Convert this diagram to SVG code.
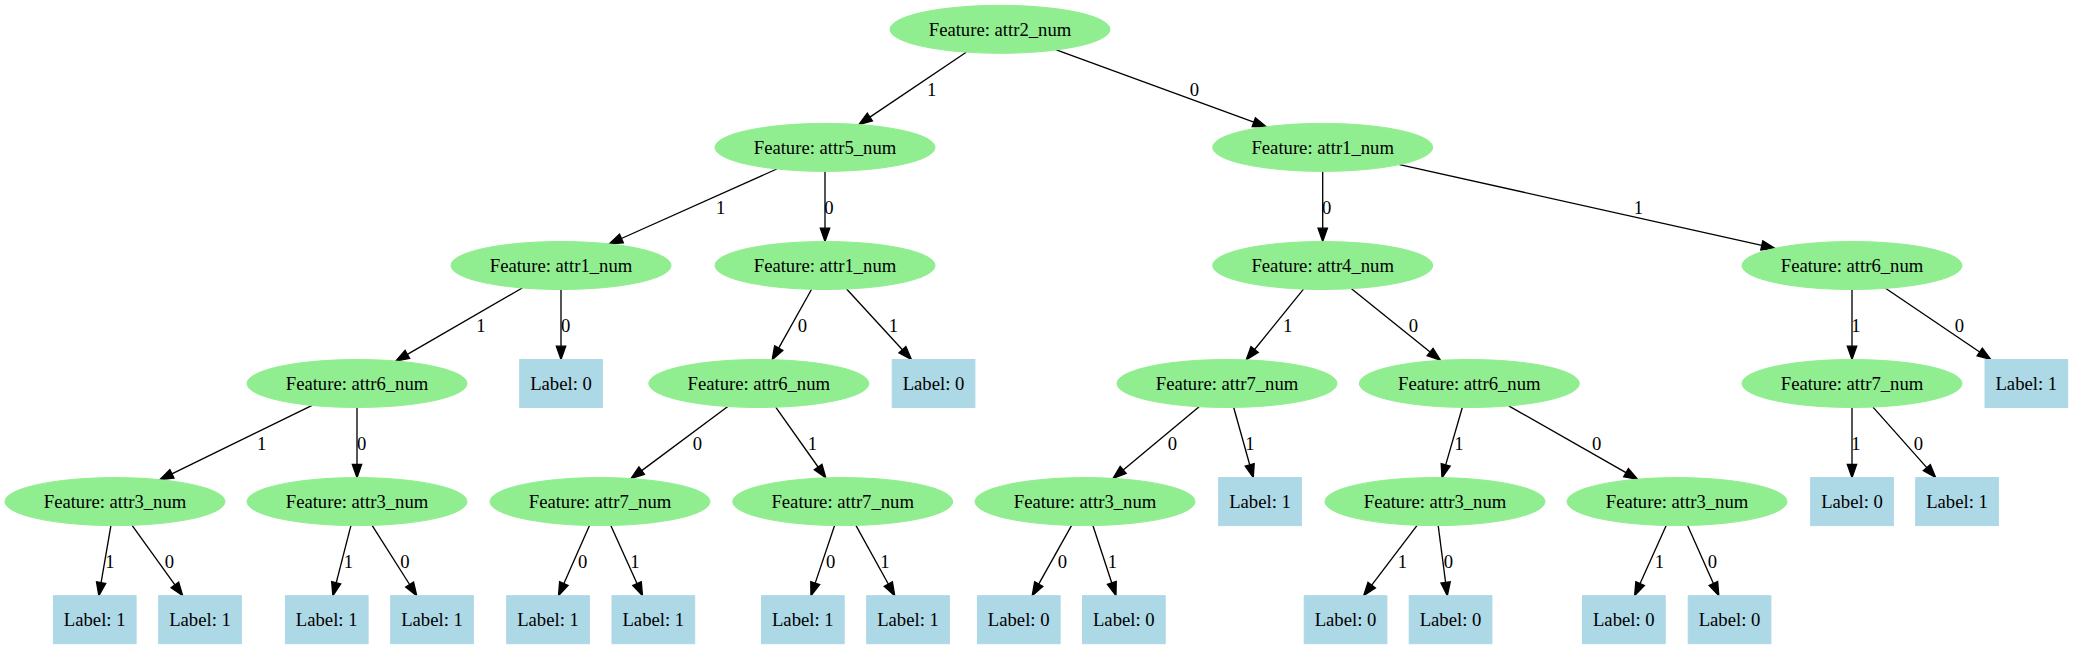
<svg xmlns="http://www.w3.org/2000/svg" width="2073" height="649" viewBox="0 0 2073 649">
<defs>
<style>
.f ellipse{fill:#90ee90;stroke:#90ee90;}
.l rect{fill:#add8e6;stroke:#add8e6;}
text{font-family:"Liberation Serif","Times New Roman",serif;font-size:18.67px;fill:#000;text-anchor:middle;}
#edges line{stroke:#000;stroke-width:1.33;marker-end:url(#arr);}
</style>
<marker id="arr" markerUnits="userSpaceOnUse" markerWidth="16" markerHeight="12" refX="0" refY="5" orient="auto" overflow="visible">
<path d="M0,0.33 L13.33,5 L0,9.67 Z" fill="#000" stroke="#000" stroke-width="1.33"/>
</marker>
</defs>
<rect width="2073" height="649" fill="#fff"/>
<g id="edges">
<line x1="966.2" y1="52.2" x2="869.9" y2="117.1"/>
<line x1="1056.3" y1="49.9" x2="1253.8" y2="122.2"/>
<line x1="776.8" y1="169" x2="621.4" y2="238.5"/>
<line x1="825" y1="171.4" x2="825" y2="228.2"/>
<line x1="1322.7" y1="171.4" x2="1322.7" y2="228.2"/>
<line x1="1399.6" y1="164.6" x2="1761.8" y2="245.4"/>
<line x1="522.2" y1="288" x2="407.4" y2="354.4"/>
<line x1="561" y1="289.5" x2="561" y2="346.2"/>
<line x1="811.6" y1="289.3" x2="778.7" y2="348.1"/>
<line x1="846.6" y1="289" x2="902.4" y2="349.7"/>
<line x1="1303.5" y1="289.1" x2="1254.6" y2="349.5"/>
<line x1="1351.5" y1="288.7" x2="1430.1" y2="352"/>
<line x1="1852" y1="289.5" x2="1852" y2="346.2"/>
<line x1="1885.5" y1="288.3" x2="1979.7" y2="352"/>
<line x1="312.1" y1="405.4" x2="171.9" y2="473.8"/>
<line x1="357" y1="407.5" x2="357" y2="464.3"/>
<line x1="727.8" y1="406.5" x2="641.7" y2="470.6"/>
<line x1="775.7" y1="407.2" x2="818.1" y2="467"/>
<line x1="1199.1" y1="406.7" x2="1123.2" y2="469.9"/>
<line x1="1233.7" y1="407.5" x2="1249.7" y2="464.8"/>
<line x1="1462.3" y1="407.5" x2="1445.7" y2="464.9"/>
<line x1="1508.7" y1="405.9" x2="1626" y2="472.6"/>
<line x1="1852" y1="407.5" x2="1852" y2="464.3"/>
<line x1="1873" y1="407.1" x2="1926.8" y2="467.6"/>
<line x1="110.9" y1="525.6" x2="101.1" y2="582.6"/>
<line x1="132.1" y1="525.3" x2="174.9" y2="584.9"/>
<line x1="350.9" y1="525.6" x2="336.2" y2="582.8"/>
<line x1="372.1" y1="525.4" x2="409.6" y2="584.5"/>
<line x1="589.5" y1="525.5" x2="563.9" y2="583.5"/>
<line x1="610.8" y1="525.5" x2="637" y2="583.6"/>
<line x1="834.6" y1="525.5" x2="815.2" y2="583.1"/>
<line x1="855.9" y1="525.4" x2="888.3" y2="584"/>
<line x1="1071.6" y1="525.4" x2="1038.7" y2="584.1"/>
<line x1="1092.9" y1="525.5" x2="1111.8" y2="583"/>
<line x1="1417.1" y1="525.3" x2="1371.7" y2="585.1"/>
<line x1="1438.2" y1="525.6" x2="1445.6" y2="582.5"/>
<line x1="1666.2" y1="525.5" x2="1640.1" y2="583.6"/>
<line x1="1687.6" y1="525.5" x2="1713.4" y2="583.5"/>
<text x="931.7" y="95.5">1</text>
<text x="1194.3" y="95.5">0</text>
<text x="720.7" y="213.5">1</text>
<text x="829" y="213.5">0</text>
<text x="1326.7" y="213.5">0</text>
<text x="1638.3" y="213.5">1</text>
<text x="481" y="331.5">1</text>
<text x="565.7" y="331.5">0</text>
<text x="802.3" y="331.5">0</text>
<text x="893.3" y="331.5">1</text>
<text x="1287.7" y="331.5">1</text>
<text x="1413.3" y="331.5">0</text>
<text x="1856" y="331.5">1</text>
<text x="1959.3" y="331.5">0</text>
<text x="261.7" y="449.8">1</text>
<text x="361.7" y="449.8">0</text>
<text x="697.3" y="449.8">0</text>
<text x="812.3" y="449.8">1</text>
<text x="1172.3" y="449.8">0</text>
<text x="1250" y="449.8">1</text>
<text x="1459" y="449.8">1</text>
<text x="1596.7" y="449.8">0</text>
<text x="1856" y="449.8">1</text>
<text x="1918.3" y="449.8">0</text>
<text x="110" y="568.2">1</text>
<text x="169.3" y="568.2">0</text>
<text x="348.3" y="568.2">1</text>
<text x="405" y="568.2">0</text>
<text x="582.7" y="568.2">0</text>
<text x="635" y="568.2">1</text>
<text x="830.7" y="568.2">0</text>
<text x="885" y="568.2">1</text>
<text x="1062.3" y="568.2">0</text>
<text x="1112.3" y="568.2">1</text>
<text x="1402.3" y="568.2">1</text>
<text x="1448.3" y="568.2">0</text>
<text x="1659.3" y="568.2">1</text>
<text x="1712.3" y="568.2">0</text>
</g>
<g id="n0" class="f"><ellipse cx="1000" cy="29.33" rx="110" ry="24"/><text x="1000" y="35.8">Feature: attr2_num</text></g>
<g id="n1" class="f"><ellipse cx="825" cy="147.4" rx="110" ry="24"/><text x="825" y="153.9">Feature: attr5_num</text></g>
<g id="n2" class="f"><ellipse cx="1322.7" cy="147.4" rx="110" ry="24"/><text x="1322.7" y="153.9">Feature: attr1_num</text></g>
<g id="n3" class="f"><ellipse cx="561" cy="265.5" rx="110" ry="24"/><text x="561" y="272">Feature: attr1_num</text></g>
<g id="n4" class="f"><ellipse cx="825" cy="265.5" rx="110" ry="24"/><text x="825" y="272">Feature: attr1_num</text></g>
<g id="n5" class="f"><ellipse cx="1322.7" cy="265.5" rx="110" ry="24"/><text x="1322.7" y="272">Feature: attr4_num</text></g>
<g id="n6" class="f"><ellipse cx="1852" cy="265.5" rx="110" ry="24"/><text x="1852" y="272">Feature: attr6_num</text></g>
<g id="n7" class="f"><ellipse cx="357" cy="383.5" rx="110" ry="24"/><text x="357" y="390">Feature: attr6_num</text></g>
<g id="n8" class="l"><rect x="519.7" y="359.5" width="82.7" height="48"/><text x="561" y="390">Label: 0</text></g>
<g id="n9" class="f"><ellipse cx="758.8" cy="383.5" rx="110" ry="24"/><text x="758.8" y="390">Feature: attr6_num</text></g>
<g id="n10" class="l"><rect x="892.2" y="359.5" width="82.7" height="48"/><text x="933.5" y="390">Label: 0</text></g>
<g id="n11" class="f"><ellipse cx="1227" cy="383.5" rx="110" ry="24"/><text x="1227" y="390">Feature: attr7_num</text></g>
<g id="n12" class="f"><ellipse cx="1469.3" cy="383.5" rx="110" ry="24"/><text x="1469.3" y="390">Feature: attr6_num</text></g>
<g id="n13" class="f"><ellipse cx="1852" cy="383.5" rx="110" ry="24"/><text x="1852" y="390">Feature: attr7_num</text></g>
<g id="n14" class="l"><rect x="1985" y="359.5" width="82.7" height="48"/><text x="2026.3" y="390">Label: 1</text></g>
<g id="n15" class="f"><ellipse cx="115" cy="501.6" rx="110" ry="24"/><text x="115" y="508.1">Feature: attr3_num</text></g>
<g id="n16" class="f"><ellipse cx="357" cy="501.6" rx="110" ry="24"/><text x="357" y="508.1">Feature: attr3_num</text></g>
<g id="n17" class="f"><ellipse cx="600" cy="501.6" rx="110" ry="24"/><text x="600" y="508.1">Feature: attr7_num</text></g>
<g id="n18" class="f"><ellipse cx="842.7" cy="501.6" rx="110" ry="24"/><text x="842.7" y="508.1">Feature: attr7_num</text></g>
<g id="n19" class="f"><ellipse cx="1085" cy="501.6" rx="110" ry="24"/><text x="1085" y="508.1">Feature: attr3_num</text></g>
<g id="n20" class="l"><rect x="1218.7" y="477.6" width="82.7" height="48"/><text x="1260" y="508.1">Label: 1</text></g>
<g id="n21" class="f"><ellipse cx="1435" cy="501.6" rx="110" ry="24"/><text x="1435" y="508.1">Feature: attr3_num</text></g>
<g id="n22" class="f"><ellipse cx="1677" cy="501.6" rx="110" ry="24"/><text x="1677" y="508.1">Feature: attr3_num</text></g>
<g id="n23" class="l"><rect x="1810.7" y="477.6" width="82.7" height="48"/><text x="1852" y="508.1">Label: 0</text></g>
<g id="n24" class="l"><rect x="1915.7" y="477.6" width="82.7" height="48"/><text x="1957" y="508.1">Label: 1</text></g>
<g id="n25" class="l"><rect x="53.4" y="595.7" width="82.7" height="48"/><text x="94.7" y="626.2">Label: 1</text></g>
<g id="n26" class="l"><rect x="158.7" y="595.7" width="82.7" height="48"/><text x="200" y="626.2">Label: 1</text></g>
<g id="n27" class="l"><rect x="285.4" y="595.7" width="82.7" height="48"/><text x="326.7" y="626.2">Label: 1</text></g>
<g id="n28" class="l"><rect x="390.7" y="595.7" width="82.7" height="48"/><text x="432" y="626.2">Label: 1</text></g>
<g id="n29" class="l"><rect x="506.7" y="595.7" width="82.7" height="48"/><text x="548" y="626.2">Label: 1</text></g>
<g id="n30" class="l"><rect x="612" y="595.7" width="82.7" height="48"/><text x="653.3" y="626.2">Label: 1</text></g>
<g id="n31" class="l"><rect x="761.5" y="595.7" width="82.7" height="48"/><text x="802.8" y="626.2">Label: 1</text></g>
<g id="n32" class="l"><rect x="866.7" y="595.7" width="82.7" height="48"/><text x="908" y="626.2">Label: 1</text></g>
<g id="n33" class="l"><rect x="977.4" y="595.7" width="82.7" height="48"/><text x="1018.7" y="626.2">Label: 0</text></g>
<g id="n34" class="l"><rect x="1082.5" y="595.7" width="82.7" height="48"/><text x="1123.8" y="626.2">Label: 0</text></g>
<g id="n35" class="l"><rect x="1304.2" y="595.7" width="82.7" height="48"/><text x="1345.5" y="626.2">Label: 0</text></g>
<g id="n36" class="l"><rect x="1409.2" y="595.7" width="82.7" height="48"/><text x="1450.5" y="626.2">Label: 0</text></g>
<g id="n37" class="l"><rect x="1582.5" y="595.7" width="82.7" height="48"/><text x="1623.8" y="626.2">Label: 0</text></g>
<g id="n38" class="l"><rect x="1688.2" y="595.7" width="82.7" height="48"/><text x="1729.5" y="626.2">Label: 0</text></g>
</svg>
